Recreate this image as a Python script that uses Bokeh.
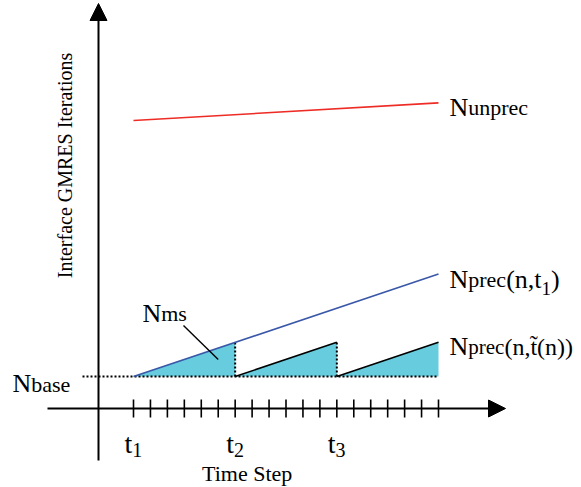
from math import pi
from bokeh.plotting import figure
from bokeh.models import Range1d, Arrow, NormalHead
from bokeh.core.properties import value
from bokeh.embed import file_html
from bokeh.resources import INLINE

# ---------------- data (schematic values) ----------------
steps = list(range(1, 20))            # time-step ticks
t_steps = [1, 7, 13]                  # labelled steps t1, t2, t3
t_subs = ["1", "2", "3"]
n_base = 10.0                         # N_base
prec_x = [1, 19]                      # N_prec(n, t1)
prec_y = [10.0, 42.0]
unprec_x = [1, 19]                    # N_unprec
unprec_y = [90.0, 95.5]
saw_start = [1, 7, 13]                # N_prec(n, t~(n)) sawtooth
saw_end = [7, 13, 19]
saw_low = 10.0
saw_high = 20.7
ms_pointer_x = [3.95, 6.0]            # leader line of the N_ms label
ms_pointer_y = [25.9, 15.3]

# ---------------- layout ----------------
FONT = "Liberation Serif"
K = 305.0 / 18.0      # px per time step
S = 3.2               # px per iteration unit
W, H = 581, 487

p = figure(width=W, height=H, output_backend="svg", toolbar_location=None,
           x_range=Range1d(1 - 133 / K, 1 + (W - 133) / K),
           y_range=Range1d(-(H - 408) / S, 408 / S),
           x_axis_location=None, y_axis_location=None, min_border=0)
p.grid.visible = False
p.outline_line_color = None
p.background_fill_color = "white"
p.border_fill_color = "white"

ax_x = 1 - 35 / K   # position of the vertical axis line
# axes arrows
p.add_layout(Arrow(end=NormalHead(size=17, fill_color="black", line_color="black", line_width=1),
                   x_start=ax_x, y_start=-52 / S, x_end=ax_x, y_end=405 / S,
                   line_width=2, line_color="black"))
p.add_layout(Arrow(end=NormalHead(size=17, fill_color="black", line_color="black", line_width=1),
                   x_start=1 - 86 / K, y_start=0, x_end=1 + 372 / K, y_end=0,
                   line_width=2, line_color="black"))

# ticks
p.segment(x0=steps, y0=-9 / S, x1=steps, y1=9 / S, line_color="black", line_width=1.6)

# cyan fills
xs = [[s, e, e] for s, e in zip(saw_start, saw_end)]
ys = [[saw_low, saw_high, saw_low] for _ in saw_start]
p.patches(xs, ys, fill_color="#67CCDE", line_color=None)

# dotted base line and verticals
p.line([1 - 51 / K, saw_end[-1]], [n_base, n_base], line_color="black",
       line_width=2, line_dash="2 2")
p.segment(x0=saw_end[:2], y0=saw_low, x1=saw_end[:2], y1=saw_high,
          line_color="black", line_width=2, line_dash="2 2")

# sawtooth (black) segments after t2
p.segment(x0=saw_start[1:], y0=saw_low, x1=saw_end[1:], y1=saw_high,
          line_color="black", line_width=1.6)

# lines
p.line(prec_x, prec_y, line_color="#3A57A8", line_width=1.6)
p.line(unprec_x, unprec_y, line_color="#EE2B24", line_width=1.6)

# leader line
p.line(ms_pointer_x, ms_pointer_y, line_color="black", line_width=1.4)

# ---------------- texts ----------------
CW = {"N": .722, "u": .5, "n": .5, "p": .5, "r": .333, "e": .444, "c": .444,
      "b": .5, "a": .444, "s": .389, "m": .778, "(": .333, ")": .333, ",": .25,
      "t": .278, "\u0303": 0.0}


def tw(s, size):
    return sum(CW.get(ch, 0.5) for ch in s) * size


def rich(x, y, pieces, xo, yo):
    cur = xo
    for txt, size, dy in pieces:
        p.text(x=[x + cur / K], y=[y - (yo + dy) / S], text=[txt],
               text_font=value(FONT), text_font_size=f"{size}px",
               text_align="left", text_baseline="alphabetic", text_color="black")
        cur += tw(txt, size)


BIG, SUB, IDX = 26, 22, 19
rich(unprec_x[-1], unprec_y[-1], [("N", BIG, 0), ("unprec", SUB, 0)], 11, 107 - (408 - unprec_y[-1] * S))
rich(prec_x[-1], prec_y[-1], [("N", BIG, 0), ("prec", SUB, 0), ("(n,t", BIG, 0), ("1", IDX, 9), (")", BIG, 0)],
     11, 279 - (408 - prec_y[-1] * S))
rich(saw_end[-1], saw_high, [("N", BIG, 0), ("prec", 21, 0), ("(n,t\u0303(n))", 24, 0)],
     11, 346 - (408 - saw_high * S))
rich(1 - 51 / K, n_base, [("N", BIG, 0), ("base", SUB, 1)], 12 - 82, 383 - (408 - n_base * S))
rich(ms_pointer_x[0], ms_pointer_y[0], [("N", BIG, 0), ("ms", SUB, 0)], -41, 313 - (408 - ms_pointer_y[0] * S))

for t, sub in zip(t_steps, t_subs):
    rich(t, 0, [("t", 28, 0), (sub, 20, 6)], -9, 35)

p.text(x=[7 + 12 / K], y=[-65 / S], text=["Time Step"], text_font=value(FONT),
       text_font_size="22px", text_align="center", text_baseline="alphabetic")
p.text(x=[ax_x - 34 / K], y=[(408 - 165) / S], text=["Interface GMRES Iterations"],
       angle=pi / 2, text_font=value(FONT), text_font_size="20px",
       text_align="center", text_baseline="alphabetic")

open("out.html", "w").write(file_html(p, INLINE))
